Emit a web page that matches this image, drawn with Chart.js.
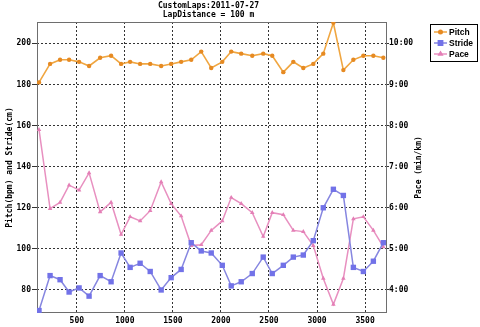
<!DOCTYPE html>
<html>
<head>
<meta charset="utf-8">
<script src="https://cdn.jsdelivr.net/npm/chart.js@4"></script>
<style>
  html, body { margin: 0; padding: 0; background: #fff; }
  #wrap { width: 480px; height: 327px; }
</style>
</head>
<body>
<div id="wrap"><canvas id="lapChart" width="480" height="327"></canvas></div>
<script>
// lap distance (m) for each point
const distances = [107, 222, 326, 420, 524, 628, 743, 857, 961, 1055, 1159, 1264, 1378, 1482, 1586, 1691, 1795, 1899, 2014, 2107, 2211, 2326, 2440, 2534, 2649, 2753, 2857, 2961, 3065, 3170, 3274, 3378, 3482, 3586, 3690];
// pitch in steps per minute
const pitch = [181, 190, 192, 192, 191, 189, 193, 194, 190, 191, 190, 190, 189, 190, 191, 192, 196, 188, 191, 196, 195, 194, 195, 194, 186, 191, 188, 190, 195, 210, 187, 192, 194, 194, 193];
// stride in cm
const stride = [70, 87, 85, 79, 81, 77, 87, 84, 98, 91, 93, 89, 80, 86, 90, 103, 99, 98, 92, 82, 84, 88, 96, 88, 92, 96, 97, 104, 120, 129, 126, 91, 89, 94, 103];
// pace in minutes per km
const pace = [7.90, 5.98, 6.13, 6.55, 6.43, 6.85, 5.90, 6.13, 5.35, 5.78, 5.68, 5.93, 6.63, 6.10, 5.80, 5.08, 5.10, 5.45, 5.68, 6.25, 6.10, 5.88, 5.30, 5.88, 5.83, 5.45, 5.42, 5.08, 4.28, 3.65, 4.28, 5.73, 5.78, 5.45, 5.05];

const xTicks = [500, 1000, 1500, 2000, 2500, 3000, 3500];
const leftTicks = [80, 100, 120, 140, 160, 180, 200];
const paceTicks = [4, 5, 6, 7, 8, 9, 10];

const FONT = 'DejaVu Sans Mono';
const tickFont = { family: FONT, size: 8, weight: 'bold' };

function points(values) {
  return values.map((v, i) => ({ x: distances[i], y: v }));
}

function fmtPace(v) {
  const m = Math.floor(v);
  const s = Math.round((v - m) * 60);
  return m + ':' + String(s).padStart(2, '0');
}

const decor = {
  id: 'decor',
  beforeDatasetsDraw(chart) {
    const { ctx, chartArea: a } = chart;
    ctx.save();
    ctx.strokeStyle = '#6e6e6e';
    ctx.lineWidth = 1;
    ctx.strokeRect(Math.round(a.left) + 0.5, Math.round(a.top) + 0.5, Math.round(a.width) - 1, Math.round(a.height) - 1);
    ctx.restore();
  },
  afterDraw(chart) {
    const { ctx, chartArea: a } = chart;
    ctx.save();
    ctx.fillStyle = '#000';
    ctx.font = 'bold 8px "' + FONT + '"';
    ctx.textAlign = 'center';
    ctx.textBaseline = 'middle';
    const midY = (a.top + a.bottom) / 2;

    // axis titles, both read bottom to top
    ctx.save();
    ctx.translate(10, midY);
    ctx.rotate(-Math.PI / 2);
    ctx.fillText('Pitch(bpm) and Stride(cm)', 0, 0);
    ctx.restore();

    ctx.save();
    ctx.translate(419, midY);
    ctx.rotate(-Math.PI / 2);
    ctx.fillText('Pace (min/km)', 0, 0);
    ctx.restore();

    // legend box
    ctx.strokeStyle = '#000';
    ctx.lineWidth = 1;
    ctx.strokeRect(430.5, 24.5, 47, 37);
    ctx.textAlign = 'left';
    ctx.font = 'bold 8.5px "Liberation Sans"';
    chart.data.datasets.forEach((ds, i) => {
      const y = 32 + i * 11;
      ctx.strokeStyle = ds.borderColor;
      ctx.lineWidth = 1.5;
      ctx.beginPath();
      ctx.moveTo(434, y);
      ctx.lineTo(447, y);
      ctx.stroke();
      ctx.fillStyle = ds.pointBackgroundColor;
      ctx.strokeStyle = ds.pointBackgroundColor;
      Chart.helpers.drawPoint(ctx, { pointStyle: ds.pointStyle, radius: ds.pointRadius * 0.8, borderWidth: 1, rotation: 0 }, 440.5, y);
      ctx.fillStyle = '#000';
      ctx.fillText(ds.label, 449, y + 0.5);
    });
    ctx.restore();
  }
};

new Chart(document.getElementById('lapChart'), {
  type: 'line',
  data: {
    datasets: [
      {
        label: 'Pitch',
        data: points(pitch),
        yAxisID: 'y',
        borderColor: '#f0a640',
        pointBackgroundColor: '#e68a22',
        pointBorderColor: '#e68a22',
        pointStyle: 'circle',
        pointRadius: 2.2,
        pointBorderWidth: 0,
        borderWidth: 1.6
      },
      {
        label: 'Stride',
        data: points(stride),
        yAxisID: 'y',
        borderColor: '#8686e0',
        pointBackgroundColor: '#7272e8',
        pointBorderColor: '#7272e8',
        pointStyle: 'rect',
        pointRadius: 3.8,
        pointBorderWidth: 0,
        borderWidth: 1.5
      },
      {
        label: 'Pace',
        data: points(pace),
        yAxisID: 'y2',
        borderColor: '#e890c0',
        pointBackgroundColor: '#e47fb6',
        pointBorderColor: '#e47fb6',
        pointStyle: 'triangle',
        pointRadius: 2.6,
        pointBorderWidth: 0,
        borderWidth: 1.5
      }
    ]
  },
  options: {
    responsive: false,
    animation: false,
    events: [],
    layout: { padding: { left: 0, right: 63, top: 0, bottom: 0 } },
    plugins: {
      legend: { display: false },
      tooltip: { enabled: false },
      title: {
        display: true,
        text: ['CustomLaps:2011-07-27', 'LapDistance = 100 m'],
        color: '#000',
        font: { family: FONT, size: 8, weight: 'bold', lineHeight: 1.1 },
        padding: { top: 2, bottom: 2.4 }
      }
    },
    scales: {
      x: {
        type: 'linear',
        min: 86,
        max: 3728,
        afterBuildTicks: axis => { axis.ticks = xTicks.map(v => ({ value: v })); },
        afterFit: axis => { axis.height = 14; },
        ticks: { color: '#000', font: tickFont, padding: 3, maxRotation: 0, callback: v => String(v) },
        grid: { color: '#333', lineWidth: 1, drawTicks: false },
        border: { display: false, dash: [2, 2] }
      },
      y: {
        position: 'left',
        min: 68.8,
        max: 210.4,
        afterBuildTicks: axis => { axis.ticks = leftTicks.map(v => ({ value: v })); },
        afterFit: axis => { axis.width = 37; },
        ticks: { color: '#000', font: tickFont, padding: 1 },
        grid: { color: '#333', lineWidth: 1, tickLength: 5, tickColor: '#333' },
        border: { display: false, dash: [2, 2] }
      },
      y2: {
        position: 'right',
        min: 68.8 / 20,
        max: 210.4 / 20,
        afterBuildTicks: axis => { axis.ticks = paceTicks.map(v => ({ value: v })); },
        afterFit: axis => { axis.width = 30; },
        ticks: { color: '#000', font: tickFont, padding: 0, callback: v => fmtPace(v) },
        grid: { drawOnChartArea: false, tickLength: 2, tickColor: '#333' },
        border: { display: false }
      }
    }
  },
  plugins: [decor]
});
</script>
</body>
</html>
